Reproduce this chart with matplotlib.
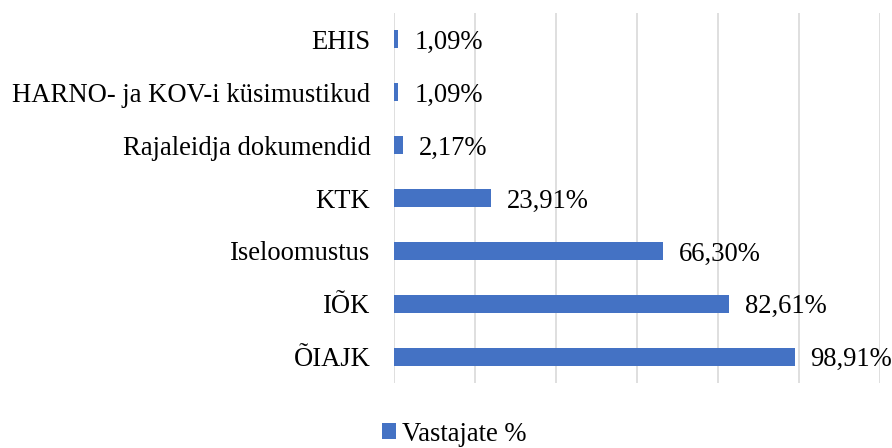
import matplotlib.pyplot as plt
from matplotlib.ticker import MultipleLocator

# andmed (ylevalt alla nagu pildil)
kategooriad = ["EHIS", "HARNO- ja KOV-i küsimustikud", "Rajaleidja dokumendid",
               "KTK", "Iseloomustus", "IÕK", "ÕIAJK"]
vaartused = [1.09, 1.09, 2.17, 23.91, 66.30, 82.61, 98.91]
seeria = "Vastajate %"

plt.rcParams['font.family'] = ['Liberation Serif', 'DejaVu Serif']
fs = 19.2

fig = plt.figure(figsize=(8.92, 4.48), dpi=100)
ax = fig.add_axes([394/892, 1 - 383/448, (880 - 394)/892, (383 - 13)/448])

y = list(range(len(kategooriad)))[::-1]
bars = ax.barh(y, vaartused, height=0.34, color='#4472C4', label=seeria, zorder=3)

ax.set_xlim(0, 120)
ax.set_ylim(-0.5, len(kategooriad) - 0.5)
ax.xaxis.set_major_locator(MultipleLocator(20))
ax.grid(axis='x', color='#D9D9D9', linewidth=1.2, zorder=0)
ax.set_yticks(y)
ax.set_yticklabels(kategooriad, fontsize=fs)
ax.tick_params(axis='y', length=0, pad=17)
ax.tick_params(axis='x', length=0, labelbottom=False)
for s in ax.spines.values():
    s.set_visible(False)

sildid = ax.bar_label(bars, labels=[f"{v:.2f}%".replace('.', ',') for v in vaartused],
                      padding=11.5, fontsize=fs)
for t in sildid:
    t.xyann = (11.5, -2.2)  # veidi allapoole nagu originaalis

fig.legend(handles=[bars], labels=[seeria], loc='center',
           bbox_to_anchor=(454/892, 0.031), frameon=False, fontsize=fs,
           handlelength=0.53, handleheight=0.53, handletextpad=0.23)

fig.savefig('out.png', dpi=100)
